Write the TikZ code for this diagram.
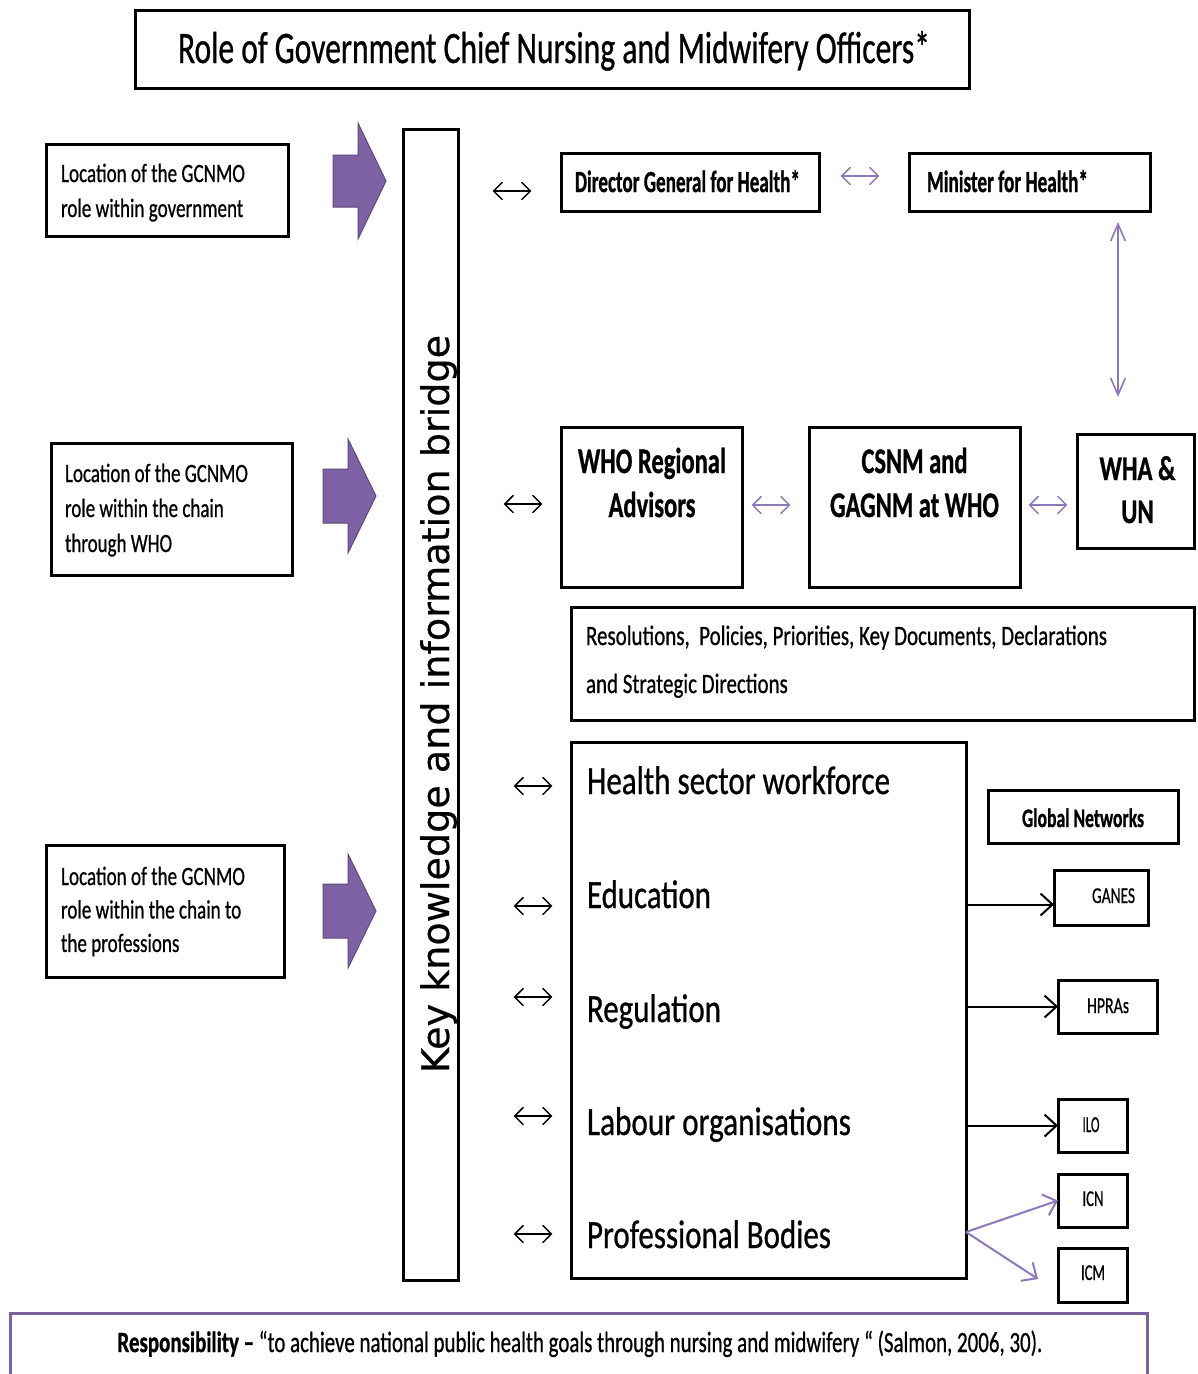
\documentclass[tikz,border=0pt]{standalone}
\usepackage{fontspec}
\setmainfont{Carlito}[UprightFeatures={FakeBold=0.8},BoldFeatures={FakeBold=1.0}]
\newfontfamily\bridgef{DejaVu Sans}[FakeBold=0.5]
\usetikzlibrary{arrows.meta,calc}
\definecolor{purfill}{RGB}{127,98,164}
\definecolor{purdraw}{RGB}{94,72,125}
\definecolor{purline}{RGB}{141,120,184}
\definecolor{purbox}{RGB}{125,96,160}
\newsavebox{\fitsave}
\newcommand{\fitw}[2]{\sbox{\fitsave}{#2}\pgfmathsetmacro{\fitr}{(#1*0.75pt)/(\the\wd\fitsave)}\scalebox{\fitr}[1]{\usebox{\fitsave}}}
\newcommand{\fsz}[2]{\fontsize{#1}{#2}\selectfont}
\newcommand{\bx}[6][]{\node[box,#1,minimum width={(#4-#2)*0.75pt},minimum height={(#5-#3)*0.75pt}] (#6) at ({(#2+#4)/2},{(#3+#5)/2}) {};}
\newcommand{\blockarrow}[6]{\draw[blockarr] (#1,#4-#5) -- (#2,#4-#5) -- (#2,#4-#6) -- (#3,#4) -- (#2,#4+#6) -- (#2,#4+#5) -- (#1,#4+#5) -- cycle;}
% short double arrow centred on a named coordinate
\newcommand{\dbl}[3][black]{\coordinate (#2) at #3;\draw[dblarr,draw=#1] ([xshift=-14.5pt]#2) -- ([xshift=14.5pt]#2);}
\begin{document}
\begin{tikzpicture}[x=0.75pt,y=-0.75pt,
  box/.style={draw=black,line width=2.25pt,inner sep=0pt,outer sep=0pt,fill=white},
  txt/.style={inner sep=0pt,outer sep=0pt},
  blockarr/.style={fill=purfill,draw=purdraw,line width=0.75pt,line join=miter},
  dblarr/.style={line width=1.1pt,{Straight Barb[length=6.5pt,width=13pt]}-{Straight Barb[length=6.5pt,width=13pt]}},
  blkarrow/.style={draw=black,line width=1.5pt,-{Straight Barb[length=9pt,width=16.5pt]}},
  plink/.style={draw=purline,line width=1.5pt,-{Straight Barb[length=9pt,width=16.5pt]}},
  vlink/.style={draw=purline,line width=1.2pt,{Straight Barb[length=12.75pt,width=11pt]}-{Straight Barb[length=12.75pt,width=11pt]}}]
\path[use as bounding box] (0,0) rectangle (1197,1374);
\clip (0,0) rectangle (1197,1374);
\fill[white] (0,0) rectangle (1197,1374);

% title
\bx{135}{10}{969}{88}{title}
\node[txt,anchor=base] (titlet) at (554,63) {\fitw{752}{\fsz{33.75}{40}Role of Government Chief Nursing and Midwifery Officers*}};

% left boxes
\bx{46}{144}{288}{236}{loc1}
\node[txt,anchor=base west] (loc1t) at (61,182) {\fitw{184}{\fsz{19.8}{26.25}\begin{tabular}[t]{@{}l@{}}Location of the GCNMO\\role within government\end{tabular}}};
\bx{51}{443}{292}{575}{loc2}
\node[txt,anchor=base west] (loc2t) at (65,482) {\fitw{183}{\fsz{19.8}{26.25}\begin{tabular}[t]{@{}l@{}}Location of the GCNMO\\role within the chain\\through WHO\end{tabular}}};
\bx{46}{845}{284}{977}{loc3}
\node[txt,anchor=base west] (loc3t) at (61,885) {\fitw{184}{\fsz{19.8}{25.1}\begin{tabular}[t]{@{}l@{}}Location of the GCNMO\\role within the chain to\\the professions\end{tabular}}};

% block arrows
\blockarrow{333}{358}{386}{181}{26}{58}
\blockarrow{323}{348}{376}{496}{27}{57}
\blockarrow{323}{348}{376}{911}{27}{57}

% bridge
\bx{403}{129}{458}{1280}{bridge}
\node[txt,rotate=90,anchor=base] (bridget) at (449,704) {\fitw{738}{\bridgef\fsz{28.5}{30}Key knowledge and information bridge}};

% top row
\bx{561}{153}{819}{211}{dg}
\node[txt,anchor=base west] (dgt) at (575,192) {\fitw{225}{\bfseries\fsz{23}{26}Director General for Health*}};
\bx{909}{153}{1150}{211}{mh}
\node[txt,anchor=base west] (mht) at (927,192) {\fitw{161}{\bfseries\fsz{23}{26}Minister for Health*}};
\dbl{a1}{(512,191)}
\dbl[purline]{p1}{(860,176)}
\coordinate (vt) at (1118,222);
\coordinate (vb) at (1118,397);
\draw[vlink] (vt) -- (vb);

% middle row
\bx{561}{427}{742}{587}{who}
\node[txt,anchor=base] (whot) at (652,473) {\fitw{148}{\bfseries\fsz{27}{33}\begin{tabular}[t]{@{}c@{}}WHO Regional\\Advisors\end{tabular}}};
\bx{809}{427}{1020}{587}{csnm}
\node[txt,anchor=base] (csnmt) at (914.5,473) {\fitw{169}{\bfseries\fsz{27}{33}\begin{tabular}[t]{@{}c@{}}CSNM and\\GAGNM at WHO\end{tabular}}};
\bx{1077}{434}{1194}{548}{wha}
\node[txt,anchor=base] (what) at (1137.5,480) {\fitw{76}{\bfseries\fsz{26}{32.25}\begin{tabular}[t]{@{}c@{}}WHA \&\\UN\end{tabular}}};
\dbl{a2}{(523,504)}
\dbl[purline]{p2}{(771,505)}
\dbl[purline]{p3}{(1048,505)}

% resolutions
\bx{571}{607}{1194}{720}{res}
\node[txt,anchor=base west] (rest) at (586,645) {\fitw{521}{\fsz{21}{36}\begin{tabular}[t]{@{}l@{}}Resolutions,\ \ Policies, Priorities, Key Documents, Declarations\\and Strategic Directions\end{tabular}}};

% workforce box
\bx{571}{742}{966}{1278}{work}
\node[txt,anchor=base west] (w1) at (587,794) {\fitw{303}{\fsz{30}{36}Health sector workforce}};
\node[txt,anchor=base west] (w2) at (587,908) {\fitw{124}{\fsz{30}{36}Education}};
\node[txt,anchor=base west] (w3) at (587,1022) {\fitw{134}{\fsz{30}{36}Regulation}};
\node[txt,anchor=base west] (w4) at (587,1135) {\fitw{264}{\fsz{30}{36}Labour organisations}};
\node[txt,anchor=base west] (w5) at (587,1248) {\fitw{244}{\fsz{30}{36}Professional Bodies}};
\dbl{b1}{(533,786)}
\dbl{b2}{(533,906)}
\dbl{b3}{(533,997)}
\dbl{b4}{(533,1116)}
\dbl{b5}{(533,1234)}

% global networks
\bx{988}{790}{1178}{843}{gn}
\node[txt,anchor=base] (gnt) at (1083,827) {\fitw{122}{\bfseries\fsz{20}{24}Global Networks}};
\bx{1054}{870}{1148}{925}{ganes}
\node[txt,anchor=base] (ganest) at (1113.5,903) {\fitw{43}{\fsz{17}{20}GANES}};
\bx{1058}{980}{1157}{1033}{hpras}
\node[txt,anchor=base] (hprast) at (1108,1013) {\fitw{42}{\fsz{17}{20}HPRAs}};
\bx{1058}{1099}{1127}{1152}{ilo}
\node[txt,anchor=base] (ilot) at (1091,1132) {\fitw{17}{\fsz{17}{20}ILO}};
\bx{1058}{1174}{1127}{1227}{icn}
\node[txt,anchor=base] (icnt) at (1093,1206) {\fitw{21}{\fsz{17}{20}ICN}};
\bx{1058}{1248}{1127}{1302}{icm}
\node[txt,anchor=base] (icmt) at (1093,1280) {\fitw{24}{\fsz{17}{20}ICM}};

% connectors to global networks
\coordinate (ga) at ([yshift=-5.25pt]ganes.west);
\draw[blkarrow] (ga -| work.east) -- (ga);
\draw[blkarrow] (hpras.west -| work.east) -- (hpras.west);
\draw[blkarrow] (ilo.west -| work.east) -- (ilo.west);
\coordinate (pb) at ($(work.south east)+(0,-46)$);
\coordinate (icmend) at (1038,1279);
\draw[plink] (pb) -- (icn.west);
\draw[plink] (pb) -- (icmend);

% responsibility
\bx[draw=purbox]{10}{1313}{1147}{1420}{resp}
\node[txt,anchor=base] (respt) at (580,1352) {\fitw{925}{\fsz{22}{26}\textbf{Responsibility –} “to achieve national public health goals through nursing and midwifery “ (Salmon, 2006, 30).}};
\end{tikzpicture}
\end{document}
